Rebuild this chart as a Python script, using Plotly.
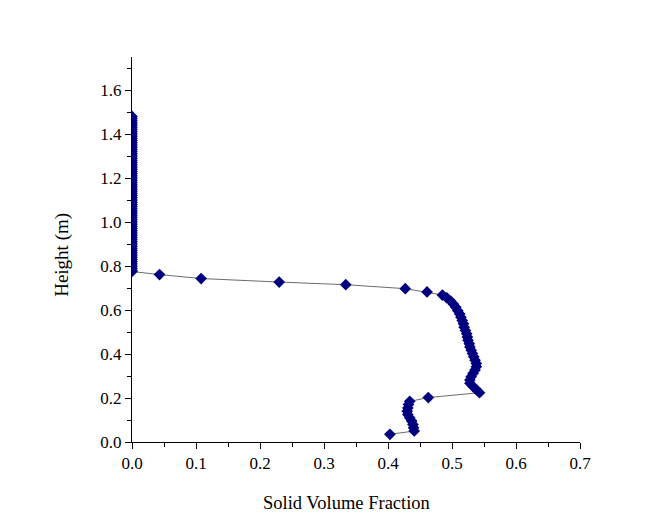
import plotly.graph_objects as go

# Column of points at zero solid fraction (free board)
top_height = [1.48, 1.47, 1.46, 1.45, 1.44, 1.43, 1.42, 1.41, 1.40, 1.39, 1.38, 1.37, 1.36,
              1.35, 1.34, 1.33, 1.32, 1.31, 1.30, 1.29, 1.28, 1.27, 1.26, 1.25, 1.24, 1.23,
              1.22, 1.21, 1.20, 1.19, 1.18, 1.17, 1.16, 1.15, 1.14, 1.13, 1.12, 1.11, 1.10,
              1.09, 1.08, 1.07, 1.06, 1.05, 1.04, 1.03, 1.02, 1.01, 1.00, 0.99, 0.98, 0.97,
              0.96, 0.95, 0.94, 0.93, 0.92, 0.91, 0.90, 0.89, 0.88, 0.87, 0.86, 0.85, 0.84,
              0.83, 0.82, 0.81, 0.80, 0.79, 0.78, 0.775]
top_fraction = [0.0] * len(top_height)

# Interface and packed bed
bed_height = [0.761, 0.743, 0.727, 0.715, 0.697, 0.682, 0.668, 0.655, 0.641, 0.627,
              0.612, 0.597, 0.582, 0.567, 0.552, 0.537, 0.522, 0.507, 0.492, 0.477,
              0.462, 0.447, 0.432, 0.417, 0.402, 0.387, 0.372, 0.357, 0.342, 0.327,
              0.312, 0.297, 0.282, 0.267, 0.252, 0.238, 0.224, 0.202, 0.185, 0.170,
              0.155, 0.140, 0.125, 0.110, 0.095, 0.080, 0.065, 0.050, 0.035]
bed_fraction = [0.043, 0.108, 0.230, 0.334, 0.427, 0.461, 0.485, 0.492, 0.498, 0.502,
                0.506, 0.509, 0.512, 0.514, 0.516, 0.518, 0.519, 0.521, 0.523, 0.524,
                0.525, 0.527, 0.528, 0.530, 0.532, 0.534, 0.536, 0.538, 0.538, 0.536,
                0.533, 0.530, 0.528, 0.528, 0.533, 0.538, 0.543, 0.463, 0.434, 0.432,
                0.431, 0.430, 0.431, 0.434, 0.437, 0.439, 0.440, 0.441, 0.403]

x_vals = top_fraction + bed_fraction
y_vals = top_height + bed_height

x_ticks = [0.0, 0.1, 0.2, 0.3, 0.4, 0.5, 0.6, 0.7]
y_ticks = [0.0, 0.2, 0.4, 0.6, 0.8, 1.0, 1.2, 1.4, 1.6]

FONT = "Liberation Serif, Times New Roman, serif"
NAVY = "#00007F"

fig = go.Figure()
fig.add_trace(go.Scatter(
    x=x_vals, y=y_vals, mode="lines+markers",
    line=dict(color="#5a5a5a", width=0.9),
    marker=dict(symbol="diamond", size=9, color=NAVY, line=dict(width=0)),
    showlegend=False,
))

fig.update_layout(
    width=672, height=527,
    margin=dict(l=124, r=100, t=49, b=93, autoexpand=False),
    paper_bgcolor="white", plot_bgcolor="white",
    font=dict(family=FONT, size=17, color="black"),
    xaxis=dict(range=[0, 0.7], tickvals=x_ticks, ticktext=[f"{v:.1f}" for v in x_ticks],
               showline=True, linecolor="black", linewidth=1, showgrid=False, zeroline=False,
               ticks="outside", ticklen=6, tickcolor="black", tickwidth=1,
               minor=dict(ticks="outside", ticklen=4, dtick=0.05, tick0=0, tickcolor="black", showgrid=False)),
    yaxis=dict(range=[0, 1.75], tickvals=y_ticks, ticktext=[f"{v:.1f}" for v in y_ticks],
               showline=True, linecolor="black", linewidth=1, showgrid=False, zeroline=False,
               ticks="outside", ticklen=6, tickcolor="black", tickwidth=1,
               minor=dict(ticks="outside", ticklen=4, dtick=0.1, tick0=0, tickcolor="black", showgrid=False)),
    annotations=[
        dict(text="Solid Volume Fraction", xref="paper", yref="paper", x=0.479, y=-0.159,
             xanchor="center", yanchor="middle", showarrow=False, font=dict(family=FONT, size=18.5)),
        dict(text="Height (m)", xref="paper", yref="paper", x=-0.155, y=0.485, textangle=-90,
             xanchor="center", yanchor="middle", showarrow=False, font=dict(family=FONT, size=19)),
    ],
)

fig.write_html("out.html")
